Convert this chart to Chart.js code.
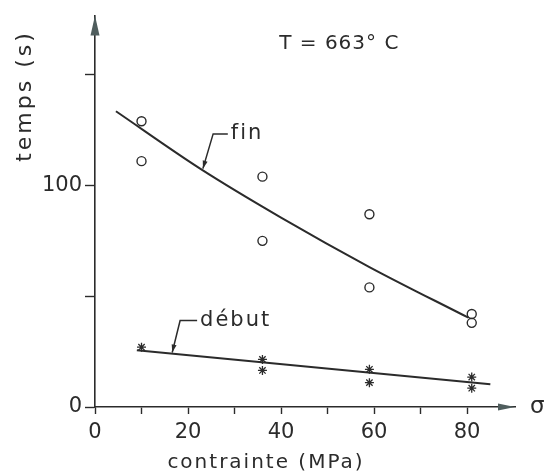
<!DOCTYPE html>
<html>
<head>
<meta charset="utf-8">
<script src="https://cdn.jsdelivr.net/npm/chart.js@4.4.1/dist/chart.umd.min.js"></script>
<style>
html, body { margin: 0; background: #fff; }
canvas { display: block; }
</style>
</head>
<body>
<canvas id="c" width="544" height="476"></canvas>
<script>
// measured points, temps (s) vs contrainte (MPa), T = 663 C
const finX = [10, 10, 36, 36, 59, 59, 81, 81];
const finY = [129, 111, 104, 75, 87, 54, 42, 38];
const debutX = [10, 36, 36, 59, 59, 81, 81];
const debutY = [27, 21.5, 16.5, 17, 11, 13.5, 8.5];

// hand drawn trend curves
const finLineX = [4.5, 22.6, 40, 59, 80.3];
const finLineY = [133.5, 107.6, 85.5, 63.2, 40.3];
const debutLineX = [9, 85];
const debutLineY = [25.6, 10.3];

const xLabels = [0, 20, 40, 60, 80];
const yLabels = [0, 100];

const INK = "#2b2b2b";
const FONT = "'DejaVu Sans', sans-serif";

const pts = (xs, ys) => xs.map((v, i) => ({ x: v, y: ys[i] }));

function arrowHead(ctx, fx, fy, tx, ty, len, half) {
	const a = Math.atan2(ty - fy, tx - fx);
	ctx.beginPath();
	ctx.moveTo(tx, ty);
	ctx.lineTo(tx - len * Math.cos(a) + half * Math.sin(a), ty - len * Math.sin(a) - half * Math.cos(a));
	ctx.lineTo(tx - len * Math.cos(a) - half * Math.sin(a), ty - len * Math.sin(a) + half * Math.cos(a));
	ctx.closePath();
	ctx.fill();
}

// arrows on the axes, labels and leaders
const decorations = {
	id: "decorations",
	afterDraw(chart) {
		const { ctx, chartArea: a, scales } = chart;
		const sx = scales.x, sy = scales.y;
		const x0 = sx.getPixelForValue(0);
		const y0 = sy.getPixelForValue(0);
		ctx.save();
		ctx.fillStyle = "#4f5d5d";
		arrowHead(ctx, x0, a.top + 30, x0, a.top, 20, 4.5);
		arrowHead(ctx, a.right - 30, y0, a.right, y0, 17, 3.5);

		ctx.fillStyle = INK;
		ctx.strokeStyle = INK;
		ctx.textBaseline = "middle";
		ctx.textAlign = "left";

		ctx.letterSpacing = "0px";
		ctx.font = "23px " + FONT;
		ctx.fillText("σ", a.right + 15, y0);

		ctx.letterSpacing = "1px";
		ctx.font = "20px " + FONT;
		ctx.fillText("T = 663° C", sx.getPixelForValue(39.6), sy.getPixelForValue(164));

		// leaders
		const leaders = [
			{ text: "fin", tx: 29.2, corner: [25.4, 123.3], tip: [23.2, 107.6] },
			{ text: "début", tx: 22.6, corner: [18.3, 39], tip: [16.6, 24.6] },
		];
		ctx.letterSpacing = "2px";
		ctx.font = "21px " + FONT;
		ctx.lineWidth = 1.5;
		for (const l of leaders) {
			const cx = sx.getPixelForValue(l.corner[0]), cy = sy.getPixelForValue(l.corner[1]);
			const px = sx.getPixelForValue(l.tip[0]), py = sy.getPixelForValue(l.tip[1]);
			const lx = sx.getPixelForValue(l.tx);
			ctx.beginPath();
			ctx.moveTo(lx - 3, cy);
			ctx.lineTo(cx, cy);
			ctx.lineTo(px, py);
			ctx.stroke();
			arrowHead(ctx, cx, cy, px, py, 8, 2.5);
			ctx.fillText(l.text, lx, cy);
		}

		// axis titles
		ctx.textAlign = "center";
		ctx.letterSpacing = "2px";
		ctx.font = "20px " + FONT;
		ctx.fillText("contrainte (MPa)", 266, 463);
		ctx.letterSpacing = "3px";
		ctx.font = "22px " + FONT;
		ctx.translate(25, 96);
		ctx.rotate(-Math.PI / 2);
		ctx.fillText("temps (s)", 0, 0);
		ctx.restore();
	},
};

new Chart(document.getElementById("c"), {
	type: "scatter",
	data: {
		datasets: [
			{
				label: "fin",
				data: pts(finX, finY),
				pointStyle: "circle",
				pointRadius: 4.5,
				borderColor: INK,
				backgroundColor: "rgba(0,0,0,0)",
				borderWidth: 1.4,
			},
			{
				label: "début",
				data: pts(debutX, debutY),
				pointStyle: "star",
				pointRadius: 4.5,
				borderColor: INK,
				borderWidth: 1.3,
			},
			{
				label: "fin (courbe)",
				data: pts(finLineX, finLineY),
				showLine: true,
				cubicInterpolationMode: "monotone",
				pointRadius: 0,
				borderColor: INK,
				borderWidth: 2,
			},
			{
				label: "début (courbe)",
				data: pts(debutLineX, debutLineY),
				showLine: true,
				pointRadius: 0,
				borderColor: INK,
				borderWidth: 2,
			},
		],
	},
	options: {
		responsive: false,
		animation: false,
		layout: { padding: { top: 13, right: 29, left: 0, bottom: 0 } },
		plugins: {
			legend: { display: false },
			tooltip: { enabled: false },
		},
		scales: {
			x: {
				type: "linear",
				min: 0,
				max: 90.3,
				afterFit: (scale) => {
					scale.height = 69;
				},
				border: { display: true, color: INK, width: 1.6 },
				grid: {
					drawOnChartArea: false,
					tickLength: 7,
					tickWidth: 1.4,
					color: (c) => (c.tick && c.tick.value > 85 ? "rgba(0,0,0,0)" : INK),
				},
				ticks: {
					stepSize: 10,
					includeBounds: false,
					autoSkip: false,
					maxRotation: 0,
					padding: 6,
					color: INK,
					font: { family: FONT, size: 21 },
					callback: (v) => (xLabels.includes(v) ? String(v) : ""),
				},
			},
			y: {
				type: "linear",
				min: 0,
				max: 176.7,
				afterFit: (scale) => {
					scale.width = 95;
				},
				border: { display: true, color: INK, width: 1.6 },
				grid: {
					drawOnChartArea: false,
					tickLength: 10,
					tickWidth: 1.4,
					color: INK,
				},
				ticks: {
					stepSize: 50,
					includeBounds: false,
					autoSkip: false,
					padding: 3,
					color: INK,
					font: { family: FONT, size: 21 },
					callback: (v) => (yLabels.includes(v) ? String(v) : ""),
				},
			},
		},
	},
	plugins: [decorations],
});
</script>
</body>
</html>
